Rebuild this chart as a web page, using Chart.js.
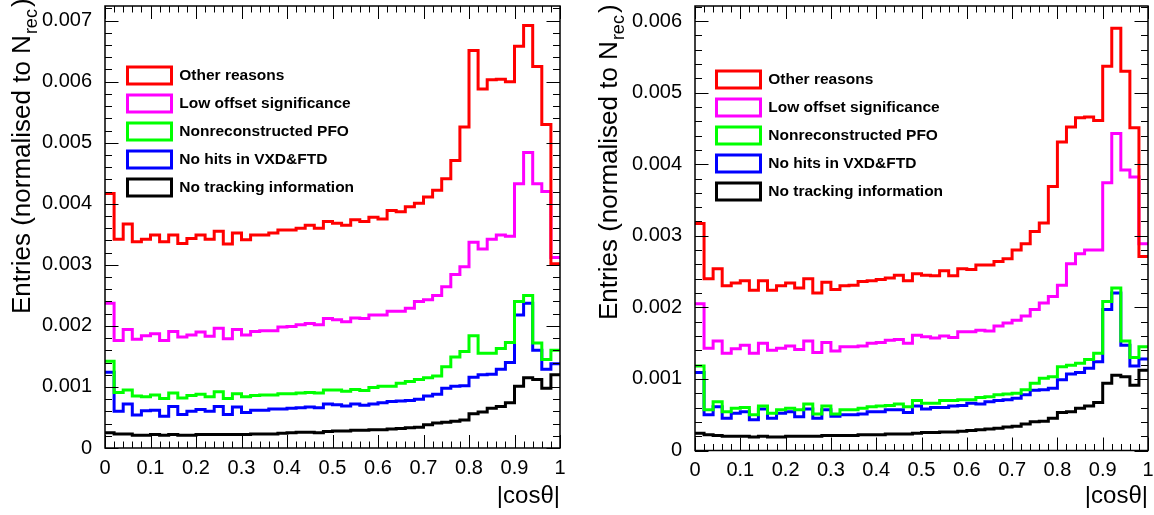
<!DOCTYPE html>
<html>
<head>
<meta charset="utf-8">
<script src="https://cdn.jsdelivr.net/npm/chart.js@4.4.1/dist/chart.umd.min.js"></script>
<style>
    html, body { margin: 0; padding: 0; background: #fff; }
    #wrap { position: relative; width: 1154px; height: 515px; overflow: hidden; }
    .panel { position: absolute; top: 0; width: 577px; height: 515px; }
</style>
</head>
<body>
<div id="wrap">
    <div class="panel" style="left:0"><canvas id="leftChart" width="577" height="515"></canvas></div>
    <div class="panel" style="left:577px"><canvas id="rightChart" width="577" height="515"></canvas></div>
</div>
<script>
// 直方圖分箱: |cosθ| 0 ~ 1, 50 bins
const binCount = 50;
const xMin = 0;
const xMax = 1;

const seriesLabels = ['Other reasons', 'Low offset significance', 'Nonreconstructed PFO', 'No hits in VXD&FTD', 'No tracking information'];
const seriesColors = ['#ff0000', '#ff00ff', '#00ff00', '#0000ff', '#000000'];

const xTickLabels = ['0', '0.1', '0.2', '0.3', '0.4', '0.5', '0.6', '0.7', '0.8', '0.9', '1'];
const leftYTickLabels = ['0', '0.001', '0.002', '0.003', '0.004', '0.005', '0.006', '0.007'];
const rightYTickLabels = ['0', '0.001', '0.002', '0.003', '0.004', '0.005', '0.006'];

const xTitle = '|cosθ|';
const yTitleMain = 'Entries (normalised to N';
const yTitleSub = 'rec';
const yTitleEnd = ')';

// 左圖
const leftOther = [0.00417, 0.00342, 0.00367, 0.00338, 0.00342, 0.00349, 0.00338, 0.00349, 0.00335, 0.00343,
    0.00349, 0.00342, 0.00355, 0.00334, 0.00352, 0.00341, 0.00349, 0.00349, 0.00352, 0.00357,
    0.00357, 0.00360, 0.00365, 0.00360, 0.00371, 0.00368, 0.00365, 0.00374, 0.00371, 0.00378,
    0.00375, 0.00389, 0.00387, 0.00395, 0.00401, 0.00411, 0.00422, 0.00441, 0.00471, 0.00526,
    0.00651, 0.00588, 0.00603, 0.00604, 0.00600, 0.00658, 0.00692, 0.00625, 0.00530, 0.00302];
const leftLowOffset = [0.00237, 0.00176, 0.00194, 0.00178, 0.00184, 0.00187, 0.00176, 0.00191, 0.00182, 0.00185,
    0.00190, 0.00183, 0.00196, 0.00179, 0.00194, 0.00185, 0.00191, 0.00192, 0.00192, 0.00198,
    0.00199, 0.00202, 0.00204, 0.00202, 0.00212, 0.00210, 0.00207, 0.00213, 0.00212, 0.00218,
    0.00218, 0.00224, 0.00224, 0.00229, 0.00240, 0.00243, 0.00250, 0.00264, 0.00284, 0.00297,
    0.00337, 0.00326, 0.00342, 0.00349, 0.00347, 0.00433, 0.00484, 0.00433, 0.00420, 0.00312];
const leftNonrecPFO = [0.00142, 0.00091, 0.00095, 0.00085, 0.00084, 0.00087, 0.00081, 0.00090, 0.00082, 0.00086,
    0.00088, 0.00084, 0.00092, 0.00081, 0.00089, 0.00084, 0.00086, 0.00087, 0.00087, 0.00089,
    0.00089, 0.00090, 0.00091, 0.00090, 0.00095, 0.00095, 0.00093, 0.00096, 0.00094, 0.00099,
    0.00101, 0.00101, 0.00106, 0.00109, 0.00112, 0.00115, 0.00118, 0.00133, 0.00149, 0.00158,
    0.00184, 0.00155, 0.00155, 0.00163, 0.00173, 0.00240, 0.00250, 0.00172, 0.00145, 0.00160];
const leftNoHits = [0.00124, 0.00060, 0.00072, 0.00054, 0.00061, 0.00062, 0.00052, 0.00068, 0.00055, 0.00060,
    0.00063, 0.00060, 0.00068, 0.00055, 0.00067, 0.00058, 0.00062, 0.00062, 0.00064, 0.00064,
    0.00065, 0.00066, 0.00067, 0.00066, 0.00072, 0.00071, 0.00069, 0.00072, 0.00070, 0.00072,
    0.00074, 0.00076, 0.00077, 0.00078, 0.00080, 0.00085, 0.00088, 0.00098, 0.00101, 0.00102,
    0.00116, 0.00120, 0.00121, 0.00129, 0.00140, 0.00218, 0.00237, 0.00160, 0.00129, 0.00138];
const leftNoTracking = [0.00025, 0.00023, 0.00023, 0.00021, 0.00021, 0.00022, 0.00021, 0.00022, 0.00021, 0.00021,
    0.00022, 0.00022, 0.00022, 0.00022, 0.00022, 0.00022, 0.00023, 0.00023, 0.00023, 0.00024,
    0.00025, 0.00026, 0.00026, 0.00025, 0.00027, 0.00028, 0.00028, 0.00029, 0.00029, 0.00030,
    0.00030, 0.00031, 0.00032, 0.00033, 0.00034, 0.00038, 0.00041, 0.00042, 0.00044, 0.00046,
    0.00056, 0.00059, 0.00065, 0.00068, 0.00074, 0.00101, 0.00115, 0.00112, 0.00098, 0.00120];

// 右圖
const rightOther = [0.00317, 0.00240, 0.00254, 0.00230, 0.00234, 0.00237, 0.00224, 0.00237, 0.00224, 0.00230,
    0.00234, 0.00227, 0.00240, 0.00220, 0.00235, 0.00225, 0.00230, 0.00231, 0.00236, 0.00237,
    0.00239, 0.00241, 0.00245, 0.00237, 0.00247, 0.00245, 0.00244, 0.00251, 0.00244, 0.00254,
    0.00253, 0.00259, 0.00259, 0.00264, 0.00268, 0.00280, 0.00289, 0.00306, 0.00318, 0.00369,
    0.00431, 0.00452, 0.00465, 0.00466, 0.00461, 0.00537, 0.00590, 0.00530, 0.00451, 0.00271];
const rightLowOffset = [0.00205, 0.00143, 0.00153, 0.00136, 0.00142, 0.00147, 0.00136, 0.00150, 0.00140, 0.00143,
    0.00146, 0.00141, 0.00153, 0.00137, 0.00151, 0.00139, 0.00145, 0.00145, 0.00146, 0.00150,
    0.00151, 0.00154, 0.00155, 0.00150, 0.00161, 0.00159, 0.00157, 0.00160, 0.00158, 0.00166,
    0.00166, 0.00168, 0.00167, 0.00174, 0.00178, 0.00182, 0.00188, 0.00197, 0.00206, 0.00215,
    0.00231, 0.00261, 0.00275, 0.00280, 0.00280, 0.00374, 0.00443, 0.00392, 0.00382, 0.00289];
const rightNonrecPFO = [0.00118, 0.00057, 0.00068, 0.00054, 0.00059, 0.00060, 0.00050, 0.00062, 0.00052, 0.00057,
    0.00059, 0.00057, 0.00065, 0.00051, 0.00062, 0.00051, 0.00057, 0.00057, 0.00059, 0.00061,
    0.00062, 0.00063, 0.00065, 0.00061, 0.00070, 0.00066, 0.00066, 0.00070, 0.00070, 0.00071,
    0.00071, 0.00074, 0.00075, 0.00078, 0.00079, 0.00080, 0.00085, 0.00094, 0.00101, 0.00103,
    0.00117, 0.00119, 0.00122, 0.00127, 0.00136, 0.00208, 0.00227, 0.00153, 0.00130, 0.00145];
const rightNoHits = [0.00109, 0.00050, 0.00061, 0.00045, 0.00052, 0.00054, 0.00043, 0.00058, 0.00045, 0.00052,
    0.00054, 0.00047, 0.00058, 0.00045, 0.00057, 0.00048, 0.00050, 0.00050, 0.00051, 0.00054,
    0.00054, 0.00057, 0.00057, 0.00053, 0.00062, 0.00058, 0.00060, 0.00060, 0.00062, 0.00063,
    0.00066, 0.00065, 0.00068, 0.00070, 0.00071, 0.00073, 0.00078, 0.00084, 0.00085, 0.00087,
    0.00099, 0.00107, 0.00109, 0.00115, 0.00124, 0.00197, 0.00220, 0.00147, 0.00118, 0.00128];
const rightNoTracking = [0.00024, 0.00022, 0.00021, 0.00020, 0.00020, 0.00020, 0.00019, 0.00020, 0.00019, 0.00019,
    0.00020, 0.00020, 0.00020, 0.00020, 0.00021, 0.00021, 0.00021, 0.00021, 0.00022, 0.00022,
    0.00022, 0.00023, 0.00023, 0.00023, 0.00024, 0.00025, 0.00025, 0.00026, 0.00026, 0.00027,
    0.00028, 0.00029, 0.00030, 0.00031, 0.00033, 0.00034, 0.00037, 0.00040, 0.00041, 0.00045,
    0.00053, 0.00054, 0.00059, 0.00062, 0.00067, 0.00094, 0.00105, 0.00103, 0.00091, 0.00112];

const fontFamily = '"Liberation Sans", Arial, Helvetica, sans-serif';

// 分箱邊界
const binEdges = [];
for (let i = 0; i <= binCount; i++) {
    binEdges.push(xMin + (xMax - xMin) * i / binCount);
}

// 直方圖 -> 階梯線的點 (每個 bin 左邊界 + 最後右邊界)
function toSteps(values) {
    const points = values.map((v, i) => ({ x: binEdges[i], y: v }));
    points.push({ x: binEdges[binCount], y: values[values.length - 1] });
    return points;
}

// ROOT 風格: 外框、內向刻度、圖例位置、Y 軸標題
const rootFrame = {
    id: 'rootFrame',
    afterLayout(chart, args, opts) {
        const lg = chart.legend;
        if (!lg) return;
        const a = chart.chartArea;
        const pad = lg.options.labels.padding;
        const w = lg.width;
        const h = lg.height;
        lg.left = a.left + opts.legendX - pad;
        lg.top = a.top + opts.legendY - pad;
        lg.right = lg.left + w;
        lg.bottom = lg.top + h;
    },
    afterDatasetsDraw(chart, args, opts) {
        const { ctx, chartArea: a } = chart;
        const xs = chart.scales.x;
        const ys = chart.scales.y;
        ctx.save();
        ctx.strokeStyle = '#000';
        ctx.lineWidth = 1;
        ctx.beginPath();
        // X 軸刻度 (上下)
        for (let i = 0; i <= 50; i++) {
            const px = Math.round(xs.getPixelForValue(i * 0.02)) + 0.5;
            const len = i % 5 === 0 ? 13 : 6.5;
            ctx.moveTo(px, a.bottom);
            ctx.lineTo(px, a.bottom - len);
            ctx.moveTo(px, a.top);
            ctx.lineTo(px, a.top + len);
        }
        // Y 軸刻度 (左右)
        for (let i = 0; i * 0.0002 <= ys.max + 1e-9; i++) {
            const py = Math.round(ys.getPixelForValue(i * 0.0002)) + 0.5;
            const len = i % 5 === 0 ? 13.5 : 7;
            ctx.moveTo(a.left, py);
            ctx.lineTo(a.left + len, py);
            ctx.moveTo(a.right, py);
            ctx.lineTo(a.right - len, py);
        }
        ctx.stroke();
        ctx.lineWidth = 1.5;
        ctx.strokeRect(a.left, a.top, a.right - a.left, a.bottom - a.top);
        ctx.restore();
    },
    afterDraw(chart, args, opts) {
        const ctx = chart.ctx;
        ctx.save();
        ctx.translate(opts.yTitleX, opts.yTitleY);
        ctx.rotate(-Math.PI / 2);
        ctx.fillStyle = '#000';
        ctx.textAlign = 'left';
        ctx.textBaseline = 'alphabetic';
        ctx.font = '26px ' + fontFamily;
        ctx.fillText(yTitleMain, 0, 0);
        let w = ctx.measureText(yTitleMain).width;
        ctx.font = '18px ' + fontFamily;
        ctx.fillText(yTitleSub, w + 1, 7);
        w += 1 + ctx.measureText(yTitleSub).width;
        ctx.font = '26px ' + fontFamily;
        ctx.fillText(yTitleEnd, w + 2, 0);
        ctx.restore();
    }
};

// 創建圖表
function createChart(canvasId, seriesValues, yMax, yTickLabels, geo) {
    const ctx = document.getElementById(canvasId).getContext('2d');
    const datasets = seriesValues.map((values, i) => ({
        label: seriesLabels[i],
        data: toSteps(values),
        borderColor: seriesColors[i],
        backgroundColor: '#ffffff',
        borderWidth: 3,
        stepped: true,
        pointRadius: 0,
        fill: false,
        tension: 0
    }));

    return new Chart(ctx, {
        type: 'line',
        data: { datasets: datasets },
        plugins: [rootFrame],
        options: {
            responsive: false,
            animation: false,
            events: [],
            layout: {
                padding: { top: geo.top, right: geo.right, left: 0, bottom: 0 }
            },
            plugins: {
                tooltip: { enabled: false },
                legend: {
                    position: 'chartArea',
                    align: 'start',
                    labels: {
                        boxWidth: 44,
                        boxHeight: 17,
                        padding: 11,
                        color: '#000',
                        font: { family: fontFamily, size: 15.5, weight: 'bold' }
                    }
                },
                rootFrame: {
                    legendX: geo.legendX,
                    legendY: geo.legendY,
                    yTitleX: geo.yTitleX,
                    yTitleY: geo.yTitleY
                }
            },
            scales: {
                x: {
                    type: 'linear',
                    min: xMin,
                    max: xMax,
                    grid: { display: false },
                    border: { display: false },
                    afterFit: function(scale) {
                        scale.height = geo.bottom;
                        scale.paddingLeft = 0;
                        scale.paddingRight = 0;
                    },
                    ticks: {
                        stepSize: 0.1,
                        autoSkip: false,
                        maxRotation: 0,
                        padding: 0,
                        color: '#000',
                        font: { family: fontFamily, size: 20 },
                        callback: function(value, index) { return xTickLabels[index]; }
                    },
                    title: {
                        display: true,
                        text: xTitle,
                        align: 'end',
                        color: '#000',
                        font: { family: fontFamily, size: 24 },
                        padding: { top: 0, bottom: 4 }
                    }
                },
                y: {
                    type: 'linear',
                    min: 0,
                    max: yMax,
                    grid: { display: false },
                    border: { display: false },
                    afterFit: function(scale) {
                        scale.width = geo.left;
                        scale.paddingTop = 0;
                        scale.paddingBottom = 0;
                    },
                    ticks: {
                        stepSize: 0.001,
                        includeBounds: false,
                        padding: 5,
                        color: '#000',
                        font: { family: fontFamily, size: 20 },
                        callback: function(value, index) { return yTickLabels[index]; }
                    }
                }
            }
        }
    });
}

const leftChart = createChart('leftChart',
    [leftOther, leftLowOffset, leftNonrecPFO, leftNoHits, leftNoTracking],
    0.00724, leftYTickLabels,
    { top: 6, right: 17, left: 105, bottom: 67, legendX: 22.5, legendY: 61, yTitleX: 30, yTitleY: 314 });

const rightChart = createChart('rightChart',
    [rightOther, rightLowOffset, rightNonrecPFO, rightNoHits, rightNoTracking],
    0.00621, rightYTickLabels,
    { top: 6, right: 6, left: 118, bottom: 64.5, legendX: 21.5, legendY: 65, yTitleX: 40, yTitleY: 320 });
</script>
</body>
</html>
